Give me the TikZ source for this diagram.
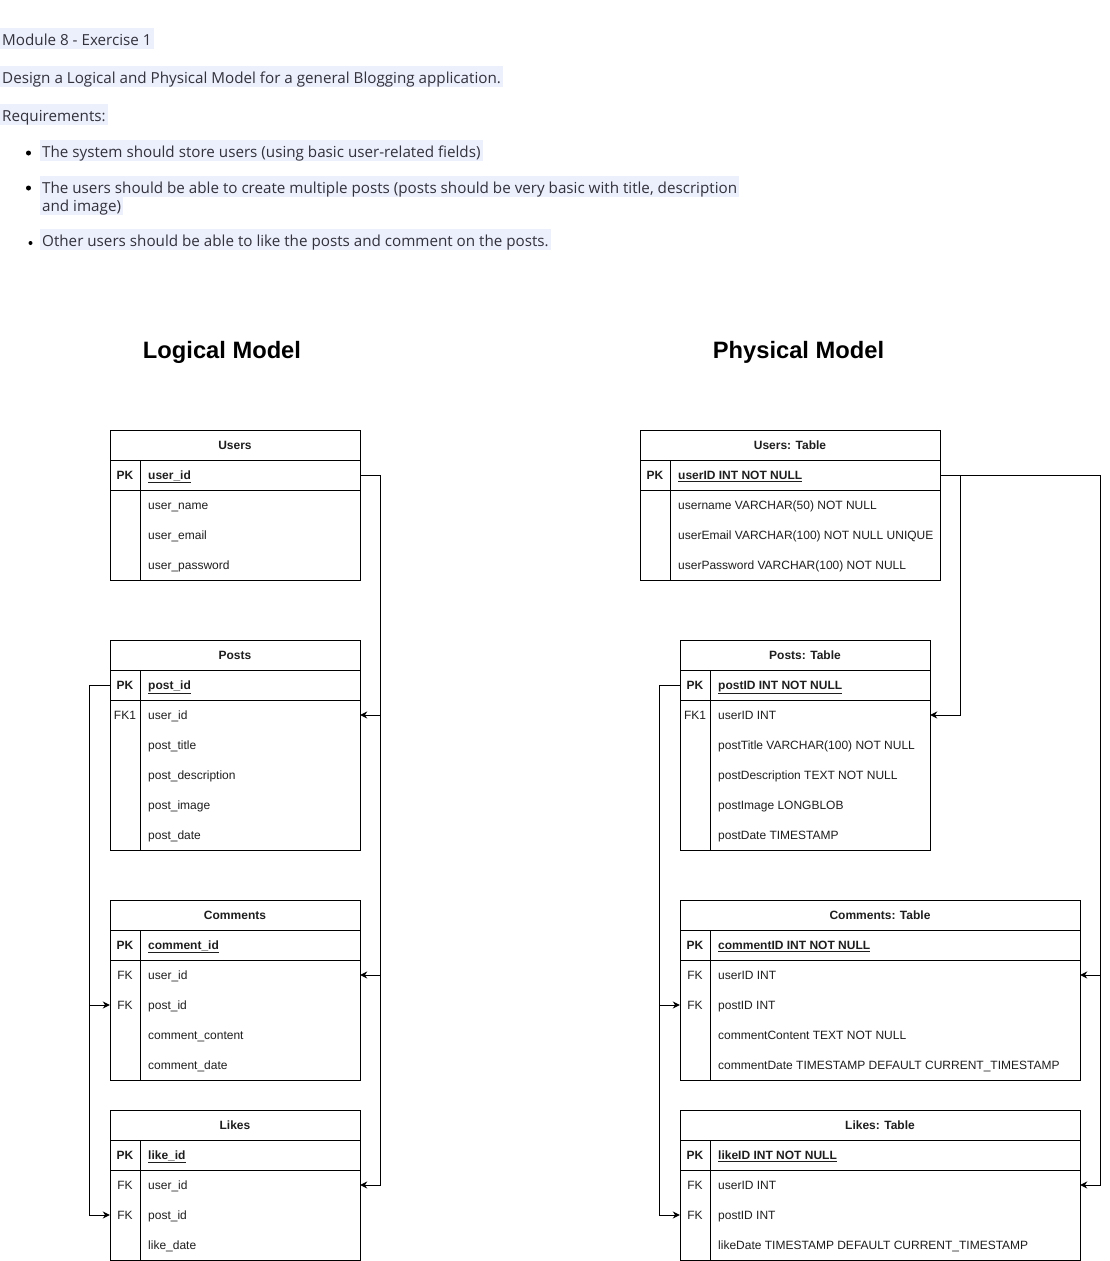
\documentclass[tikz,border=0pt]{standalone}
\usepackage{fontspec}
\setmainfont{Liberation Sans}
\newfontfamily\segoe{Open Sans}
\usetikzlibrary{arrows.meta}
\definecolor{hl}{RGB}{236,239,252}
\definecolor{txt}{RGB}{30,30,30}
\definecolor{ntxt}{RGB}{50,50,60}
\tikzset{
 tbl/.style={draw=black,line width=1pt},
 cell/.style={inner sep=0pt,minimum height=30pt,text height=10pt,text depth=1.4pt,text=txt,font=\fontsize{12}{14}\selectfont},
 hdr/.style={cell,font=\fontsize{12}{14}\selectfont\bfseries},
 fld/.style={cell,anchor=west},
 keyc/.style={cell},
 fk/.style={draw=black,line width=1pt,-{Stealth[length=7pt,width=7pt]}},
 note/.style={fill=hl,anchor=west,inner xsep=2pt,inner ysep=0pt,text height=17.5pt,text depth=3.5pt,text=ntxt,font=\segoe\fontsize{15.2}{18}\selectfont},
 ttl/.style={font=\fontsize{23.7}{28}\selectfont\bfseries},
 dot/.style={circle,fill=black,inner sep=0pt}
}
\newcommand{\ertable}[8]{%
  \node[hdr,minimum width=#4pt] (#1) at ({#2+#4/2},{#3+15}) {#5};
  \node[cell,minimum width=#4pt] (#1-0) at ({#2+#4/2},{#3+45}) {};
  \node[keyc,font=\fontsize{12}{14}\selectfont\bfseries] (#1-k0) at ({#2+15},{#3+45}) {PK};
  \node[fld,font=\fontsize{12}{14}\selectfont\bfseries] (#1-f0) at ({#2+38},{#3+45}) {\underline{#6}};
  \foreach[count=\i] \k/\f in {#7} {
    \node[cell,minimum width=#4pt] (#1-\i) at ({#2+#4/2},{#3+45+30*\i}) {};
    \node[keyc] (#1-k\i) at ({#2+15},{#3+45+30*\i}) {\k};
    \node[fld] (#1-f\i) at ({#2+38},{#3+45+30*\i}) {\f};
  }
  \draw[tbl] (#2,#3) rectangle ({#2+#4},{#3+60+30*#8});
  \draw[tbl] (#2,{#3+30}) -- ({#2+#4},{#3+30});
  \draw[tbl] (#2,{#3+60}) -- ({#2+#4},{#3+60});
  \draw[tbl] ({#2+30},{#3+30}) -- ({#2+30},{#3+60+30*#8});
}
\begin{document}
\begin{tikzpicture}[x=1pt,y=-1pt]
\useasboundingbox (0,0) rectangle (1109,1261);
% header text
\node[note] (n1) at (0,38.5) {Module 8 - Exercise 1};
\node[note] (n2) at (0,76.5) {Design a Logical and Physical Model for a general Blogging application.};
\node[note] (n3) at (0,114) {Requirements:};
\node[note] (n4) at (40,150.5) {The system should store users (using basic user-related fields)};
\node[note] (n5) at (40,186) {The users should be able to create multiple posts (posts should be very basic with title, description};
\node[note] (n6) at (40,204) {and image)};
\node[note] (n7) at (40,239.5) {Other users should be able to like the posts and comment on the posts.};
\node[dot,minimum size=5pt] (b1) at (28.5,153) {};
\node[dot,minimum size=5pt] (b2) at (28.5,188) {};
\node[dot,minimum size=4pt] (b3) at (30.5,243) {};
% titles
\node[ttl] (tl) at (222,352) {Logical Model};
\node[ttl] (tp) at (798.5,352) {Physical Model};
% logical tables
\ertable{LU}{110}{430}{250}{Users}{user\_id}{{}/user\_name,{}/user\_email,{}/user\_password}{3}
\ertable{LP}{110}{640}{250}{Posts}{post\_id}{FK1/user\_id,{}/post\_title,{}/post\_description,{}/post\_image,{}/post\_date}{5}
\ertable{LC}{110}{900}{250}{Comments}{comment\_id}{FK/user\_id,FK/post\_id,{}/comment\_content,{}/comment\_date}{4}
\ertable{LL}{110}{1110}{250}{Likes}{like\_id}{FK/user\_id,FK/post\_id,{}/like\_date}{3}
% physical tables
\ertable{PU}{640}{430}{300}{Users: Table}{userID INT NOT NULL}{{}/username VARCHAR(50) NOT NULL,{}/userEmail VARCHAR(100) NOT NULL UNIQUE,{}/userPassword VARCHAR(100) NOT NULL}{3}
\ertable{PP}{680}{640}{250}{Posts: Table}{postID INT NOT NULL}{FK1/userID INT,{}/postTitle VARCHAR(100) NOT NULL,{}/postDescription TEXT NOT NULL,{}/postImage LONGBLOB,{}/postDate TIMESTAMP}{5}
\ertable{PC}{680}{900}{400}{Comments: Table}{commentID INT NOT NULL}{FK/userID INT,FK/postID INT,{}/commentContent TEXT NOT NULL,{}/commentDate TIMESTAMP DEFAULT CURRENT\_TIMESTAMP}{4}
\ertable{PL}{680}{1110}{400}{Likes: Table}{likeID INT NOT NULL}{FK/userID INT,FK/postID INT,{}/likeDate TIMESTAMP DEFAULT CURRENT\_TIMESTAMP}{3}
% logical connectors
\draw[fk] (LU-0.east) -- ++(20,0) |- (LP-1.east);
\draw[fk] (LU-0.east) -- ++(20,0) |- (LC-1.east);
\draw[fk] (LU-0.east) -- ++(20,0) |- (LL-1.east);
\draw[fk] (LP-0.west) -- ++(-20,0) |- (LC-2.west);
\draw[fk] (LP-0.west) -- ++(-20,0) |- (LL-2.west);
% physical connectors
\draw[fk] (PU-0.east) -- ++(20,0) |- (PP-1.east);
\draw[fk] (PU-0.east) -- ++(160,0) |- (PC-1.east);
\draw[fk] (PU-0.east) -- ++(160,0) |- (PL-1.east);
\draw[fk] (PP-0.west) -- ++(-20,0) |- (PC-2.west);
\draw[fk] (PP-0.west) -- ++(-20,0) |- (PL-2.west);
\end{tikzpicture}
\end{document}
